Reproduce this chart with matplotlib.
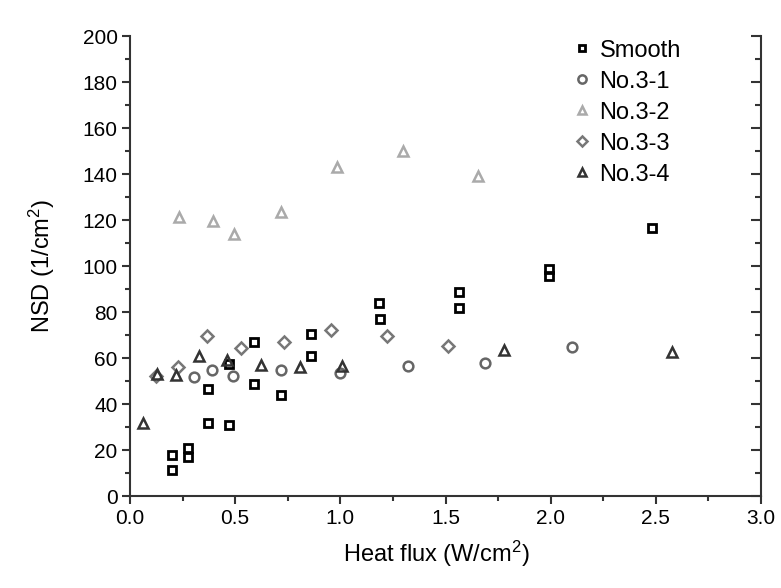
import matplotlib
matplotlib.use("Agg")
import matplotlib.pyplot as plt
from matplotlib.ticker import MultipleLocator

plt.rcParams['font.family'] = ['Liberation Sans', 'DejaVu Sans']
plt.rcParams['mathtext.default'] = 'regular'

smooth_x = [0.20, 0.20, 0.275, 0.275, 0.37, 0.37, 0.47, 0.47, 0.59, 0.59, 0.72, 0.86, 0.86,
            1.185, 1.19, 1.565, 1.565, 1.99, 1.99, 2.48]
smooth_y = [17.8, 11.3, 20.9, 17.0, 46.5, 31.7, 57.4, 30.9, 67.0, 48.7, 43.9, 70.4, 60.9,
            83.9, 77.0, 88.7, 81.7, 98.7, 95.7, 116.5]

n31_x = [0.305, 0.39, 0.49, 0.72, 1.0, 1.32, 1.69, 2.10]
n31_y = [51.7, 54.8, 52.0, 54.8, 53.5, 56.5, 57.8, 64.8]

n32_x = [0.232, 0.394, 0.493, 0.72, 0.986, 1.30, 1.654]
n32_y = [121.3, 119.6, 113.9, 123.5, 143.0, 150.0, 139.0]

n33_x = [0.125, 0.229, 0.364, 0.53, 0.73, 0.957, 1.22, 1.51]
n33_y = [52.0, 56.2, 69.6, 64.3, 67.0, 72.2, 69.6, 65.3]

n34_x = [0.062, 0.127, 0.218, 0.327, 0.46, 0.625, 0.806, 1.01, 1.78, 2.575]
n34_y = [31.7, 53.0, 52.6, 60.9, 59.0, 56.9, 56.0, 56.5, 63.5, 62.6]

x_ticks = [0.0, 0.5, 1.0, 1.5, 2.0, 2.5, 3.0]
y_ticks = [0, 20, 40, 60, 80, 100, 120, 140, 160, 180, 200]

fig = plt.figure(figsize=(7.81, 5.88), dpi=100)
ax = fig.add_axes([130/781, 1-496/588, (761-130)/781, (496-36)/588])

spine_c = '#333333'
mew = 1.8
ax.plot(smooth_x, smooth_y, 's', ms=5.5, mfc='none', mec='#000000', mew=2.0, label='Smooth', clip_on=False)
ax.plot(n31_x, n31_y, 'o', ms=7, mfc='none', mec='#666666', mew=mew, label='No.3-1', clip_on=False)
ax.plot(n32_x, n32_y, '^', ms=7.5, mfc='none', mec='#aaaaaa', mew=mew, label='No.3-2', clip_on=False)
ax.plot(n33_x, n33_y, 'D', ms=6.5, mfc='none', mec='#777777', mew=mew, label='No.3-3', clip_on=False)
ax.plot(n34_x, n34_y, '^', ms=7.5, mfc='none', mec='#333333', mew=mew, label='No.3-4', clip_on=False)

ax.set_xlim(0, 3.0)
ax.set_ylim(0, 200)
ax.set_xticks(x_ticks)
ax.set_yticks(y_ticks)
ax.set_xticklabels([f'{v:.1f}' for v in x_ticks])
ax.set_yticklabels([str(v) for v in y_ticks])
ax.xaxis.set_minor_locator(MultipleLocator(0.25))
ax.yaxis.set_minor_locator(MultipleLocator(10))

ax.spines['top'].set_visible(False)
for s in ['left', 'bottom', 'right']:
    ax.spines[s].set_color(spine_c)
    ax.spines[s].set_linewidth(1.5)

ax.tick_params(axis='both', which='major', direction='out', length=6, width=1.5, color=spine_c,
               labelsize=15, pad=3)
ax.tick_params(axis='both', which='minor', direction='out', length=3.5, width=1.5, color=spine_c)
ax.tick_params(axis='y', which='both', right=True, labelright=False)

# right side ticks inward
for t in ax.yaxis.get_major_ticks():
    t.tick2line.set_marker(matplotlib.lines.TICKLEFT)
    t.tick2line.set_markersize(7)
for t in ax.yaxis.get_minor_ticks():
    t.tick2line.set_marker(matplotlib.lines.TICKLEFT)
    t.tick2line.set_markersize(4)

ax.set_xlabel('Heat flux (W/cm$^2$)', fontsize=17, labelpad=8)
ax.xaxis.label.set_x(0.485)
ax.set_ylabel('NSD (1/cm$^2$)', fontsize=17, labelpad=18)

leg = ax.legend(loc='upper left', bbox_to_anchor=(0.675, 1.028), frameon=False, fontsize=17,
                handlelength=0.8, handletextpad=0.35, labelspacing=0.38, borderpad=0.2,
                markerscale=0.85)

fig.savefig('out.png', dpi=100)
